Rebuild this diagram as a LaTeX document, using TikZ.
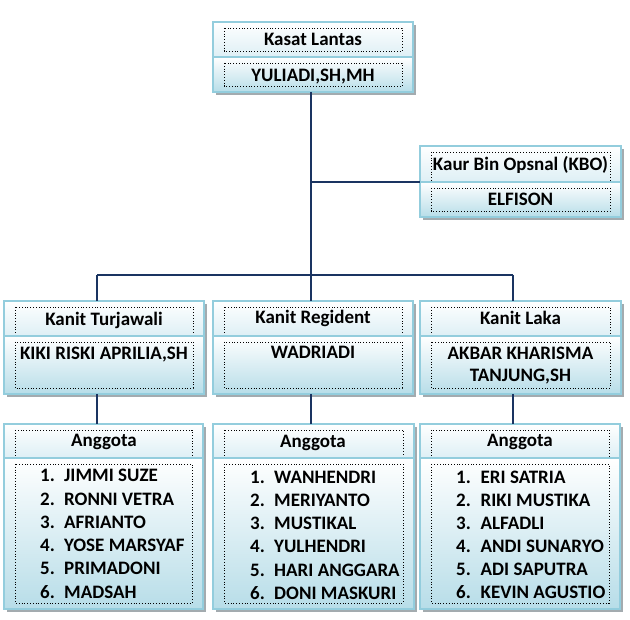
\documentclass[tikz,border=0pt]{standalone}
\usepackage{fontspec}
\setmainfont{Carlito}
\definecolor{bord}{HTML}{93CDDD}
\definecolor{hbot}{HTML}{DDEFF5}
\definecolor{bbot}{HTML}{B7DDE8}
\definecolor{shad}{HTML}{A3ABAF}
\definecolor{navy}{HTML}{1A3461}
\tikzset{
  hdr/.style={draw=bord, line width=1.3pt, top color=white, bottom color=hbot, inner sep=0pt, outer sep=0pt},
  bdy/.style={draw=bord, line width=1.3pt, top color=white, bottom color=bbot, inner sep=0pt, outer sep=0pt},
  dots/.style={draw=black, dotted, line width=0.8pt},
  conn/.style={draw=navy, line width=2.5pt},
  lbl/.style={font=\bfseries\fontsize{19}{21}\selectfont, inner sep=0pt, anchor=base},
  item/.style={lbl, anchor=base west},
}
\newcommand\obox[7]{%
  \fill[shad] (#2+3,#4+3) rectangle (#3+3,#6+3);
  \node[hdr, anchor=north west, minimum width={(#3-#2)*1pt}, minimum height={(#5-#4)*1pt}] (#1-h) at (#2,#4) {};
  \draw[dots] (#2+11,#4+6) rectangle (#3-11,#7);
  \node[bdy, anchor=north west, minimum width={(#3-#2)*1pt}, minimum height={(#6-#5)*1pt}] (#1-b) at (#2,#5) {};
  \draw[dots] (#2+11,#5+6) rectangle (#3-11,#6-6);
}
\begin{document}
\begin{tikzpicture}[x=1pt, y=-1pt]
\useasboundingbox[fill=white] (0,0) rectangle (630,620);
% boxes
\obox{kas}{213}{413}{22}{57}{92}{51}
\obox{kbo}{420}{621}{146}{182}{217}{186}
\obox{tur}{4}{204}{301}{336}{394}{340}
\obox{reg}{213}{413}{301}{336}{394}{340}
\obox{lak}{420}{621}{301}{336}{394}{340}
\obox{angl}{4}{203}{424}{458}{609}{462}
\obox{angm}{213}{414}{424}{458}{609}{462}
\obox{angr}{420}{620}{424}{458}{609}{462}
% connectors
\coordinate (bl) at (97,275);
\coordinate (bc) at (311,275);
\coordinate (br) at (513,275);
\draw[conn] (bc |- kas-b.south) -- (bc);
\draw[conn] (bc |- kbo-h.south west) -- (kbo-h.south west);
\draw[conn] (bl) -- (br);
\draw[conn] (bl) -- (bl |- tur-h.north);
\draw[conn] (bc) -- (bc |- reg-h.north);
\draw[conn] (br) -- (br |- lak-h.north);
\draw[conn] (bl |- tur-b.south) -- (bl |- angl-h.north);
\draw[conn] (bc |- reg-b.south) -- (bc |- angm-h.north);
\draw[conn] (br |- lak-b.south) -- (br |- angr-h.north);
% texts
\node[lbl] (t-kas) at (313,46) {Kasat Lantas};
\node[lbl] (t-yul) at (313,82) {YULIADI,SH,MH};
\node[lbl] (t-kbo) at (520.5,171) {Kaur Bin Opsnal (KBO)};
\node[lbl] (t-elf) at (520.5,206) {ELFISON};
\node[lbl] (t-tur) at (104,326) {Kanit Turjawali};
\node[lbl] (t-reg) at (313,324) {Kanit Regident};
\node[lbl] (t-lak) at (520.5,325) {Kanit Laka};
\node[lbl] (t-kiki) at (104,360) {KIKI RISKI APRILIA,SH};
\node[lbl] (t-wad) at (313,359) {WADRIADI};
\node[lbl] (t-akb1) at (520.5,360) {AKBAR KHARISMA};
\node[lbl] (t-akb2) at (520.5,382) {TANJUNG,SH};
\node[lbl] (t-al) at (104,447) {Anggota};
\node[lbl] (t-am) at (313,448) {Anggota};
\node[lbl] (t-ar) at (520,447) {Anggota};
% lists
\foreach \n/\t [count=\i from 0] in {1/JIMMI SUZE,2/RONNI VETRA,3/AFRIANTO,4/YOSE MARSYAF,5/PRIMADONI,6/MADSAH}
  \node[item] (l-\n) at (40,482+23.2*\i) {\makebox[24pt][l]{\n.}\t};
\foreach \n/\t [count=\i from 0] in {1/WANHENDRI,2/MERIYANTO,3/MUSTIKAL,4/YULHENDRI,5/HARI ANGGARA,6/DONI MASKURI}
  \node[item] (m-\n) at (250,483.3+23.2*\i) {\makebox[24pt][l]{\n.}\t};
\foreach \n/\t [count=\i from 0] in {1/ERI SATRIA,2/RIKI MUSTIKA,3/ALFADLI,4/ANDI SUNARYO,5/ADI SAPUTRA,6/KEVIN AGUSTIO}
  \node[item] (r-\n) at (456,483.3+23*\i) {\makebox[24.5pt][l]{\n.}\t};
\end{tikzpicture}
\end{document}
